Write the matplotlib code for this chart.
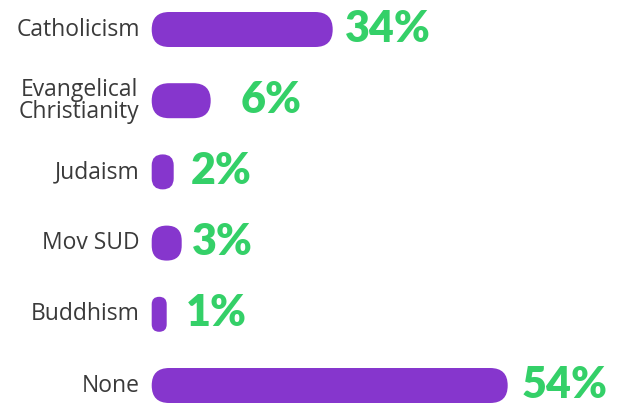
import matplotlib.pyplot as plt
from matplotlib.patches import FancyBboxPatch

# data
categories = ['Catholicism', 'Evangelical\nChristianity', 'Judaism', 'Mov SUD', 'Buddhism', 'None']
pct_labels = ['34%', '6%', '2%', '3%', '1%', '54%']
# drawn bar lengths (axis units = pixels), not proportional to the labels in the source
bar_len = [181, 59, 22, 30, 15, 356]

PURPLE = '#8636cd'
GREEN = '#34d068'
TEXT = '#3a3a3a'

W, H = 628, 403
x0 = 151.7          # left edge of bars
y_first, y_step = 29.5, 71.2
bar_h = 35
label_pad = [12, 30, 17, 10, 19, 14]   # gap bar end -> percent text

fig = plt.figure(figsize=(W / 100, H / 100), dpi=100)
ax = fig.add_axes([0, 0, 1, 1])
ax.set_xlim(-x0, W - x0)
ax.set_ylim(H, 0)
ax.axis('off')

for i, (cat, lab, L) in enumerate(zip(categories, pct_labels, bar_len)):
    yc = y_first + i * y_step
    r = min(L, bar_h) / 2
    ax.add_patch(FancyBboxPatch((0, yc - bar_h / 2), L, bar_h,
                                boxstyle=f'round,pad=0,rounding_size={r}',
                                fc=PURPLE, ec='none'))
    ax.text(-12, yc, cat, ha='right', va='center', ma='center',
            fontsize=16.5, color=TEXT, family='Open Sans', linespacing=0.9)
    ax.text(L + label_pad[i], yc - 1, lab, ha='left', va='center',
            fontsize=31, color=GREEN, family='Lato', weight='heavy')

fig.savefig('out.png', dpi=100)
